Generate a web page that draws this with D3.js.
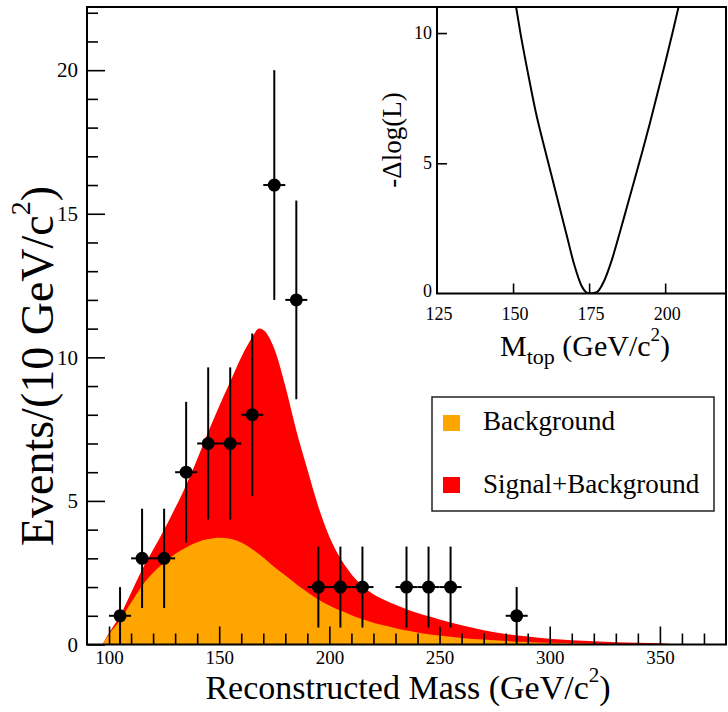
<!DOCTYPE html>
<html><head><meta charset="utf-8">
<script src="https://cdn.jsdelivr.net/npm/d3@7"></script>
<style>
body{margin:0;background:#fff}
svg{display:block}
text{font-family:"Liberation Serif","Times New Roman",serif;fill:#000}
</style>
</head><body>
<svg id="chart" width="728" height="712"></svg>
<script>
// ---- data: observed events per 10 GeV/c^2 bin ----
const massBins = [105,115,125,135,145,155,165,175,185,195,205,215,235,245,255,285];
const events   = [1,3,3,6,7,7,8,16,12,2,2,2,2,2,2,1];
const eventErr = [1.0,1.73,1.73,2.45,2.65,2.65,2.83,4.0,3.46,1.41,1.41,1.41,1.41,1.41,1.41,1.0];
const binWidth = 10;

// ---- data: fitted curves ----
const curveMass    = [97,100,105,110,115,120,125,130,135,140,145,150,155,160,165,168,170,175,180,185,190,195,200,205,210,215,220,225,230,235,240,245,250,260,270,280,290,300,310,320,330,340,350,357];
const sigPlusBkg   = [0,0.4,1.0,1.8,2.6,3.3,4.0,4.75,5.55,6.45,7.4,8.3,9.15,10.0,10.7,11.0,10.95,10.3,9.0,7.45,6.1,4.8,3.75,3.0,2.45,2.05,1.75,1.55,1.38,1.23,1.1,0.98,0.87,0.67,0.5,0.37,0.28,0.2,0.15,0.11,0.08,0.06,0.04,0];
const background   = [0,0.35,0.85,1.45,2.05,2.5,2.85,3.15,3.38,3.56,3.67,3.72,3.68,3.55,3.32,3.15,3.03,2.7,2.4,2.1,1.82,1.57,1.36,1.18,1.02,0.88,0.76,0.66,0.57,0.49,0.42,0.36,0.31,0.23,0.17,0.12,0.09,0.06,0.04,0.03,0.02,0.01,0.005,0];

// ---- data: inset likelihood scan ----
const mtop   = [150,152.5,155,157.5,160,162.5,165,167.5,170,172.5,175,177.5,180,182.5,185,187.5,190,192.5,195,197.5,200,202.5,205];
const dlogL  = [11.7,9.95,8.4,6.95,5.75,4.6,3.45,2.3,1.15,0.3,0.0,0.05,0.5,1.3,2.3,3.35,4.4,5.45,6.55,7.7,8.85,10.05,11.3];

// ---- ticks ----
const xMajor = [100,150,200,250,300,350];
const xMinor = d3.range(100,371,10).filter(v => v % 50 !== 0);
const yMajor = [0,5,10,15,20];
const yMinor = d3.range(1,23,1).filter(v => v % 5 !== 0);
const insetXTicks = [150,175,200];
const insetYTicks = [5,10];
const insetXLabels = [125,150,175,200];
const insetYLabels = [0,5,10];

const legendItems = [
  {label:"Background", color:"#ffa500"},
  {label:"Signal+Background", color:"#ff0000"}
];

const svg = d3.select("#chart");
const M = {left:87, right:726, top:7, bottom:644.5};
const x = d3.scaleLinear().domain([90,380]).range([M.left,M.right]);
const y = d3.scaleLinear().domain([0,22.2]).range([M.bottom,M.top]);

const areaGen = d3.area()
  .x((d,i) => x(curveMass[i]))
  .y0(y(0))
  .y1(d => y(d))
  .curve(d3.curveMonotoneX);

svg.append("clipPath").attr("id","plotclip")
  .append("rect").attr("x",M.left).attr("y",M.top).attr("width",M.right-M.left).attr("height",M.bottom-M.top);

const gPlot = svg.append("g").attr("clip-path","url(#plotclip)");
gPlot.append("path").attr("d", areaGen(sigPlusBkg)).attr("fill","#ff0000");
gPlot.append("path").attr("d", areaGen(background)).attr("fill","#ffa500");

// axes (ticks inside)
function styleAxis(g){
  g.select(".domain").remove();
  g.selectAll(".tick line").attr("stroke","#000").attr("stroke-width",1.6);
}
svg.append("g").attr("transform",`translate(0,${M.bottom})`)
  .call(d3.axisBottom(x).tickValues(xMinor).tickSize(-11).tickFormat(""))
  .call(styleAxis);
svg.append("g").attr("transform",`translate(0,${M.bottom})`)
  .call(d3.axisBottom(x).tickValues(xMajor).tickSize(-18).tickPadding(6).tickFormat(d3.format("d")))
  .call(styleAxis)
  .call(g => g.selectAll("text").attr("font-size",19));
svg.append("g").attr("transform",`translate(${M.left},0)`)
  .call(d3.axisLeft(y).tickValues(yMinor).tickSize(-11).tickFormat(""))
  .call(styleAxis);
svg.append("g").attr("transform",`translate(${M.left},0)`)
  .call(d3.axisLeft(y).tickValues(yMajor).tickSize(-18).tickPadding(9).tickFormat(d3.format("d")))
  .call(styleAxis)
  .call(g => g.selectAll("text").attr("font-size",21));

// data points with error bars
const pts = svg.append("g");
massBins.forEach((m,i) => {
  const v = events[i], e = eventErr[i];
  pts.append("line").attr("x1",x(m)).attr("x2",x(m))
    .attr("y1",y(Math.max(0,v-e))).attr("y2",y(v+e))
    .attr("stroke","#000").attr("stroke-width",2);
  pts.append("line").attr("x1",x(m-binWidth/2)).attr("x2",x(m+binWidth/2))
    .attr("y1",y(v)).attr("y2",y(v))
    .attr("stroke","#000").attr("stroke-width",2);
  pts.append("circle").attr("cx",x(m)).attr("cy",y(v)).attr("r",6.5).attr("fill","#000");
});

// frame
svg.append("rect").attr("x",M.left).attr("y",M.top)
  .attr("width",M.right-M.left).attr("height",M.bottom-M.top)
  .attr("fill","none").attr("stroke","#000").attr("stroke-width",2);

// helper: text with superscript 2 (px offsets so baseline returns exactly)
function withSup(t, before, size, supSize, after){
  const lift = size * 0.5;
  t.append("tspan").text(before);
  t.append("tspan").attr("dy", -lift).attr("font-size", supSize).text("2");
  t.append("tspan").attr("dy", lift).text(after);
}

// axis titles
svg.append("text").attr("x",408).attr("y",699).attr("text-anchor","middle").attr("font-size",34)
  .call(t => withSup(t, "Reconstructed Mass (GeV/c", 34, 21, ")"));
svg.append("text").attr("transform","translate(53,366) rotate(-90)").attr("text-anchor","middle").attr("font-size",46)
  .call(t => withSup(t, "Events/(10 GeV/c", 46, 28, ")"));

// legend
const L = {x:432, y:397, w:282, h:114};
svg.append("rect").attr("x",L.x).attr("y",L.y).attr("width",L.w).attr("height",L.h)
  .attr("fill","#fff").attr("stroke","#222").attr("stroke-width",1.5);
legendItems.forEach((it,i) => {
  svg.append("rect").attr("x",443).attr("y",415+i*62).attr("width",17).attr("height",16).attr("fill",it.color);
  svg.append("text").attr("x",483).attr("y",430+i*63).attr("font-size",27).text(it.label);
});

// inset
const I = {left:437, right:726, top:7, bottom:293.5};
const ix = d3.scaleLinear().domain([125,220]).range([I.left,I.right]);
const iy = d3.scaleLinear().domain([0,11]).range([I.bottom,I.top]);
svg.append("rect").attr("x",I.left).attr("y",I.top).attr("width",I.right-I.left).attr("height",I.bottom-I.top)
  .attr("fill","#fff");
svg.append("clipPath").attr("id","insetclip").append("rect")
  .attr("x",I.left).attr("y",I.top).attr("width",I.right-I.left).attr("height",I.bottom-I.top);
svg.append("path")
  .attr("clip-path","url(#insetclip)")
  .attr("d", d3.line().x((d,i)=>ix(mtop[i])).y(d=>iy(d)).curve(d3.curveMonotoneX)(dlogL))
  .attr("fill","none").attr("stroke","#000").attr("stroke-width",2);
svg.append("g").attr("transform",`translate(0,${I.bottom})`)
  .call(d3.axisBottom(ix).tickValues(insetXTicks).tickSize(-10).tickFormat(""))
  .call(styleAxis);
svg.append("g").attr("transform",`translate(${I.left},0)`)
  .call(d3.axisLeft(iy).tickValues(insetYTicks).tickSize(-10).tickFormat(""))
  .call(styleAxis);
svg.append("g").selectAll("text").data(insetXLabels).join("text")
  .attr("x",d=>ix(d)+2).attr("y",320).attr("text-anchor","middle").attr("font-size",18).text(d=>d);
svg.append("g").selectAll("text").data(insetYLabels).join("text")
  .attr("x",432).attr("y",d=>iy(d) - (d===0 ? 2 : 0)).attr("dy","0.33em").attr("text-anchor","end").attr("font-size",18).text(d=>d);
svg.append("rect").attr("x",I.left).attr("y",I.top).attr("width",I.right-I.left).attr("height",I.bottom-I.top)
  .attr("fill","none").attr("stroke","#000").attr("stroke-width",2);
svg.append("text").attr("transform","translate(401,140) rotate(-90)").attr("text-anchor","middle").attr("font-size",27)
  .text("-\u0394log(L)");
svg.append("text").attr("x",500).attr("y",356).attr("font-size",30)
  .call(t => { t.append("tspan").text("M");
               t.append("tspan").attr("dy",8).attr("font-size",22).text("top");
               t.append("tspan").attr("dy",-8).text(" (GeV/c");
               t.append("tspan").attr("dy",-15).attr("font-size",19).text("2");
               t.append("tspan").attr("dy",15).text(")"); });
</script>
</body></html>
